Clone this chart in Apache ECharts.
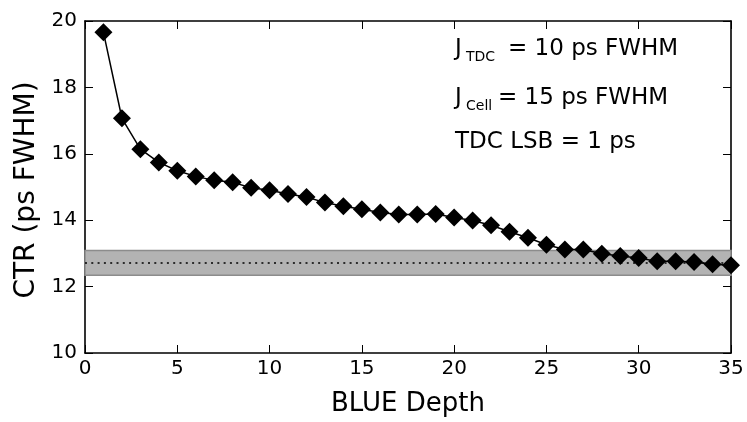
<!DOCTYPE html>
<html>
<head>
<meta charset="utf-8">
<script src="https://cdn.jsdelivr.net/npm/echarts@6/dist/echarts.min.js"></script>
<style>
  html, body { margin: 0; padding: 0; background: #fff; }
  #chart { width: 747px; height: 422px; }
</style>
</head>
<body>
<div id="chart"></div>
<script>
// BLUE depth vs. coincidence time resolution
const depths = [1, 2, 3, 4, 5, 6, 7, 8, 9, 10, 11, 12, 13, 14, 15, 16, 17, 18,
  19, 20, 21, 22, 23, 24, 25, 26, 27, 28, 29, 30, 31, 32, 33, 34, 35];
const ctrValues = [19.66, 17.07, 16.14, 15.74, 15.49, 15.32, 15.20, 15.14, 14.98,
  14.90, 14.79, 14.70, 14.53, 14.42, 14.33, 14.23, 14.17, 14.17, 14.19, 14.08,
  13.99, 13.85, 13.65, 13.47, 13.26, 13.12, 13.12, 12.99, 12.92, 12.86, 12.76,
  12.76, 12.74, 12.67, 12.64];
// reference level and its uncertainty band
const refLevel = 12.72;
const refBand = [12.34, 13.09];
const xTicks = { min: 0, max: 35, step: 5 };
const yTicks = { min: 10, max: 20, step: 2 };

const FONT = 'DejaVu Sans';
const chart = echarts.init(document.getElementById('chart'), null, { renderer: 'canvas' });

const axisLine = { show: true, onZero: false, lineStyle: { color: '#000', width: 1.6 } };
const axisTick = { show: true, inside: true, length: 8, lineStyle: { color: '#000', width: 1 } };

function note(text, x, y, size) {
  return {
    type: 'text', x: x, y: y,
    style: { text: text, fontFamily: FONT, fontSize: size, fill: '#000', verticalAlign: 'middle' }
  };
}

chart.setOption({
  animation: false,
  backgroundColor: '#fff',
  textStyle: { fontFamily: FONT },
  grid: { left: 85, right: 16, top: 21, bottom: 69 },
  xAxis: [{
    type: 'value', min: xTicks.min, max: xTicks.max, interval: xTicks.step,
    position: 'bottom',
    name: 'BLUE Depth', nameLocation: 'middle', nameGap: 38,
    nameTextStyle: { fontFamily: FONT, fontSize: 26, color: '#000' },
    axisLine, axisTick,
    axisLabel: { fontFamily: FONT, fontSize: 20, color: '#000', margin: 6 },
    splitLine: { show: false }
  }, {
    type: 'value', min: xTicks.min, max: xTicks.max, interval: xTicks.step,
    position: 'top', axisLine, axisTick,
    axisLabel: { show: false }, splitLine: { show: false }
  }],
  yAxis: [{
    type: 'value', min: yTicks.min, max: yTicks.max, interval: yTicks.step,
    position: 'left',
    name: 'CTR (ps FWHM)', nameLocation: 'middle', nameGap: 44,
    nameTextStyle: { fontFamily: FONT, fontSize: 28, color: '#000', padding: [0, 6, 0, 0] },
    axisLine, axisTick,
    axisLabel: { fontFamily: FONT, fontSize: 20, color: '#000', margin: 8 },
    splitLine: { show: false }
  }, {
    type: 'value', min: yTicks.min, max: yTicks.max, interval: yTicks.step,
    position: 'right', axisLine, axisTick,
    axisLabel: { show: false }, splitLine: { show: false }
  }],
  series: [{
    type: 'line',
    data: depths.map((d, i) => [d, ctrValues[i]]),
    symbol: 'diamond',
    symbolSize: 18,
    clip: false,
    lineStyle: { color: '#000', width: 1.5 },
    itemStyle: { color: '#000' },
    z: 5,
    markArea: {
      silent: true,
      itemStyle: { color: '#b3b3b3', borderColor: '#8c8c8c', borderWidth: 1.5 },
      data: [[{ yAxis: refBand[0] }, { yAxis: refBand[1] }]]
    },
    markLine: {
      silent: true,
      symbol: ['none', 'none'],
      label: { show: false },
      lineStyle: { color: '#000', width: 1.6, type: [2, 4.3] },
      data: [{ yAxis: refLevel }]
    }
  }, {
    // keeps the top and right frame axes active
    type: 'line', xAxisIndex: 1, yAxisIndex: 1, data: [], silent: true
  }],
  graphic: [
    note('J', 455, 49, 23),
    note('TDC', 466, 57, 14),
    note('= 10 ps FWHM', 508, 49, 23),
    note('J', 455, 98, 23),
    note('Cell', 466, 106, 14),
    note('= 15 ps FWHM', 498, 98, 23),
    note('TDC LSB = 1 ps', 455, 142, 23)
  ]
});
</script>
</body>
</html>
